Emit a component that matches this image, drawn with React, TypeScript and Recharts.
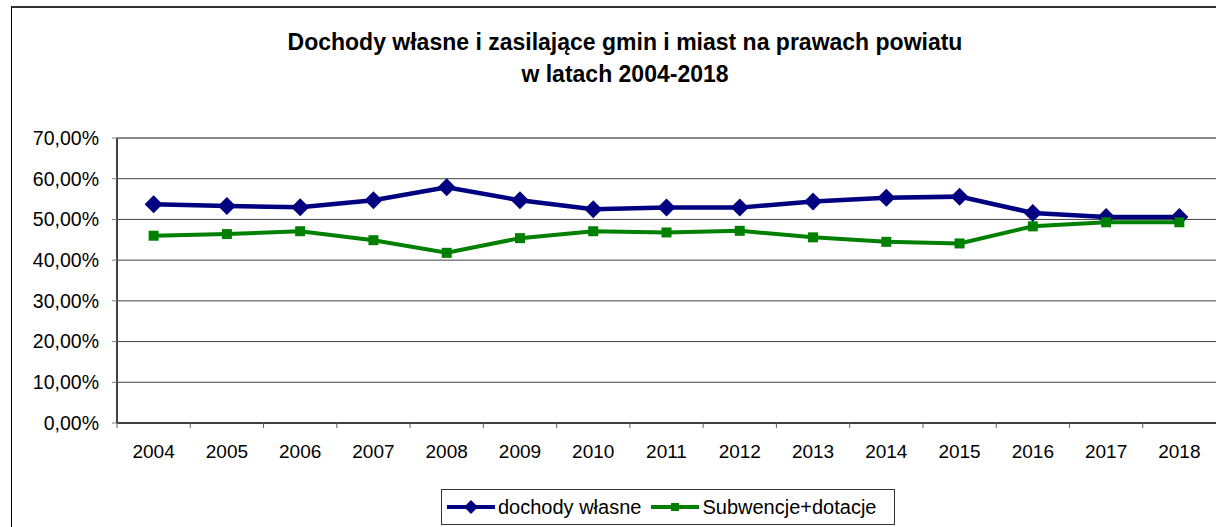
import React from 'react';
import { LineChart, Line, XAxis, YAxis, CartesianGrid, ReferenceLine } from 'recharts';

const years = ['2004', '2005', '2006', '2007', '2008', '2009', '2010', '2011', '2012', '2013', '2014', '2015', '2016', '2017', '2018'];
const dochodyWlasne = [53.7, 53.3, 53.0, 54.7, 57.9, 54.7, 52.5, 52.9, 52.9, 54.4, 55.3, 55.6, 51.6, 50.6, 50.6];
const subwencjeDotacje = [46.0, 46.4, 47.1, 44.9, 41.8, 45.4, 47.1, 46.8, 47.2, 45.6, 44.5, 44.1, 48.3, 49.3, 49.3];
const yTicks = [0, 10, 20, 30, 40, 50, 60, 70];

const titleLines = ['Dochody własne i zasilające gmin i miast na prawach powiatu', 'w latach 2004-2018'];
const seriesNames = ['dochody własne', 'Subwencje+dotacje'];

const data = years.map((year, i) => ({
    year,
    wlasne: dochodyWlasne[i],
    subwencje: subwencjeDotacje[i],
}));

const FONT = '"Liberation Sans", Arial, sans-serif';
const NAVY = '#000080';
const GREEN = '#008000';

const W = 1216;
const H = 527;
const PLOT_LEFT = 117;
const PLOT_TOP = 138;
const PLOT_BOTTOM = 423;
const X_AXIS_H = 40;
const BAND = (W - PLOT_LEFT) / years.length;
const TICK_SIZE = 5;
const X_TICK_MARGIN = 17;

const formatPct = (v: number) => `${v.toFixed(2).replace('.', ',')}%`;

// eslint-disable-next-line @typescript-eslint/no-explicit-any
function YearTick(props: any) {
    const { x, y, payload } = props;
    const bx = x - BAND / 2;
    // y is the label position; the boundary tick sits just below the axis line
    const top = y - X_TICK_MARGIN - TICK_SIZE;
    return (
        <g>
            <line x1={bx} y1={top} x2={bx} y2={top + TICK_SIZE} stroke="#606060" strokeWidth={1} />
            <text x={x} y={y} dy="0.71em" textAnchor="middle" fill="#000" fontSize={19} fontFamily={FONT}>
                {payload.value}
            </text>
        </g>
    );
}

// eslint-disable-next-line @typescript-eslint/no-explicit-any
function Diamond(props: any) {
    const { cx, cy } = props;
    if (cx == null || cy == null) return null;
    const r = 9;
    return <polygon points={`${cx},${cy - r} ${cx + r},${cy} ${cx},${cy + r} ${cx - r},${cy}`} fill={NAVY} />;
}

// eslint-disable-next-line @typescript-eslint/no-explicit-any
function Square(props: any) {
    const { cx, cy } = props;
    if (cx == null || cy == null) return null;
    const s = 5;
    return <rect x={cx - s} y={cy - s} width={s * 2} height={s * 2} fill={GREEN} />;
}

function LegendBox() {
    return (
        <div
            style={{
                position: 'absolute',
                left: 441,
                top: 489,
                width: 452,
                height: 34,
                border: '1px solid #333',
                display: 'flex',
                alignItems: 'center',
                fontFamily: FONT,
                fontSize: 20,
                color: '#000',
                boxSizing: 'content-box',
                whiteSpace: 'nowrap',
            }}
        >
            <svg width={48} height={20} style={{ marginLeft: 5 }}>
                <line x1={0} y1={10} x2={48} y2={10} stroke={NAVY} strokeWidth={4} />
                <polygon points="24,3 31,10 24,17 17,10" fill={NAVY} />
            </svg>
            <span style={{ marginLeft: 3 }}>{seriesNames[0]}</span>
            <svg width={48} height={20} style={{ marginLeft: 10 }}>
                <line x1={0} y1={10} x2={48} y2={10} stroke={GREEN} strokeWidth={4} />
                <rect x={20} y={6} width={8} height={8} fill={GREEN} />
            </svg>
            <span style={{ marginLeft: 3 }}>{seriesNames[1]}</span>
        </div>
    );
}

export default function App() {
    return (
        <div style={{ position: 'absolute', left: 0, top: 0, width: W, height: H, overflow: 'hidden', background: '#fff' }}>
            <div
                style={{
                    position: 'absolute',
                    left: 11,
                    top: 6,
                    width: W,
                    height: H,
                    borderLeft: '1px solid #000',
                    borderTop: '2px solid #333',
                }}
            />
            <div
                style={{
                    position: 'absolute',
                    left: 0,
                    top: 26,
                    width: 1250,
                    textAlign: 'center',
                    fontFamily: FONT,
                    fontWeight: 'bold',
                    fontSize: 23,
                    lineHeight: '32px',
                    color: '#000',
                }}
            >
                {titleLines.map(t => (
                    <div key={t}>{t}</div>
                ))}
            </div>
            <div style={{ position: 'absolute', left: 0, top: 0 }}>
                <LineChart
                    width={W}
                    height={H}
                    data={data}
                    margin={{ top: PLOT_TOP, right: 0, left: 0, bottom: H - PLOT_BOTTOM - X_AXIS_H }}
                >
                    <CartesianGrid horizontal vertical={false} stroke="#404040" strokeWidth={1} />
                    <ReferenceLine y={70} stroke="#8a8a8a" strokeWidth={2} />
                    <XAxis
                        dataKey="year"
                        height={X_AXIS_H}
                        padding={{ left: BAND / 2, right: BAND / 2 }}
                        axisLine={{ stroke: '#404040', strokeWidth: 2 }}
                        tickLine={false}
                        tickSize={TICK_SIZE}
                        tickMargin={X_TICK_MARGIN}
                        interval={0}
                        tick={<YearTick />}
                    />
                    <YAxis
                        width={PLOT_LEFT}
                        domain={[0, 70]}
                        ticks={yTicks}
                        interval={0}
                        tickFormatter={formatPct}
                        axisLine={{ stroke: '#404040', strokeWidth: 2 }}
                        tickLine={{ stroke: '#808080' }}
                        tickSize={TICK_SIZE}
                        tickMargin={13}
                        tick={{ fill: '#000', fontSize: 19.5, fontFamily: FONT }}
                    />
                    <Line
                        type="linear"
                        dataKey="wlasne"
                        name={seriesNames[0]}
                        stroke={NAVY}
                        strokeWidth={4.5}
                        dot={<Diamond />}
                        activeDot={false}
                        isAnimationActive={false}
                    />
                    <Line
                        type="linear"
                        dataKey="subwencje"
                        name={seriesNames[1]}
                        stroke={GREEN}
                        strokeWidth={4}
                        dot={<Square />}
                        activeDot={false}
                        isAnimationActive={false}
                    />
                </LineChart>
            </div>
            <LegendBox />
        </div>
    );
}
